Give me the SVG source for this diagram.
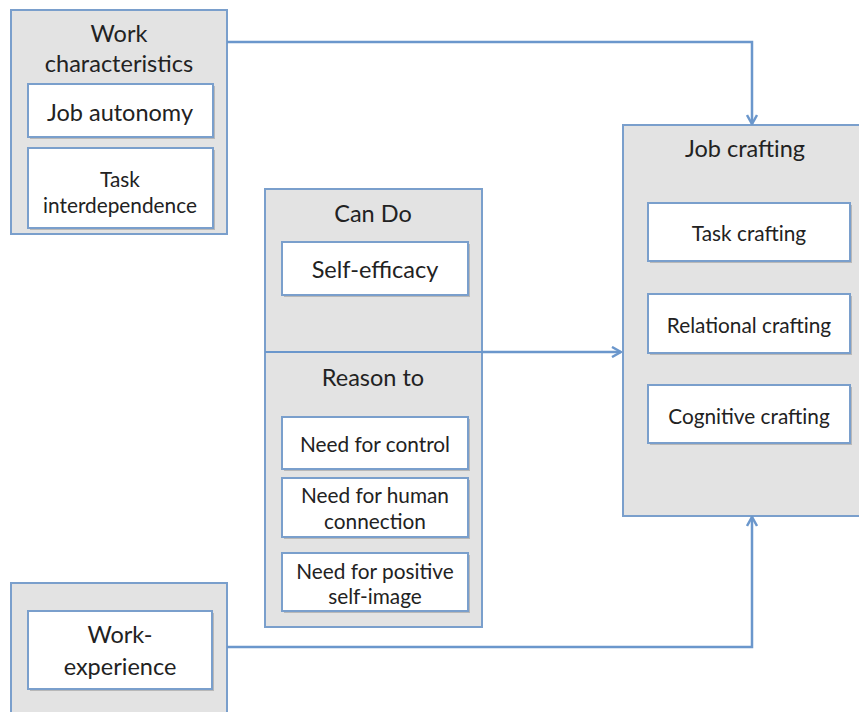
<svg xmlns="http://www.w3.org/2000/svg" width="859" height="712" viewBox="0 0 859 712">
<style>
.outer{fill:#e3e3e3;stroke:#7a9fcc;stroke-width:2}
.inner{fill:#ffffff;stroke:#7a9fcc;stroke-width:2}
.shadow{fill:#b8b8b8}
text{font-family:Lato,"Open Sans","Liberation Sans",sans-serif;fill:#222222;text-anchor:middle}
.big{font-size:23.5px}
.sm{font-size:20.8px}
.conn{fill:none;stroke:#6b97cc;stroke-width:2.5}
</style>
<defs>
<marker id="arr" viewBox="0 0 12 12" refX="11" refY="6" markerWidth="12" markerHeight="12" markerUnits="userSpaceOnUse" orient="auto">
<polyline points="2,1 11,6 2,11" fill="none" stroke="#6b97cc" stroke-width="2.5"/>
</marker>
</defs>
<rect width="859" height="712" fill="#ffffff"/>
<g id="work-characteristics">
<rect class="outer" x="11" y="10" width="216" height="224"/>
<text class="big" x="119" y="42">Work</text>
<text class="big" x="119" y="72">characteristics</text>
<g id="job-autonomy">
<rect class="shadow" x="30" y="86" width="185" height="53"/>
<rect class="inner" x="28" y="84" width="185" height="53"/>
<text class="big" x="120" y="121">Job autonomy</text>
</g>
<g id="task-interdependence">
<rect class="shadow" x="30" y="150" width="185" height="80"/>
<rect class="inner" x="28" y="148" width="185" height="80"/>
<text class="sm" x="120" y="187">Task</text>
<text class="sm" x="120" y="213">interdependence</text>
</g>
</g>
<g id="can-do-reason-to">
<rect class="outer" x="265" y="189" width="217" height="438"/>
<line x1="265" y1="352" x2="482" y2="352" stroke="#6b97cc" stroke-width="2"/>
<text class="big" x="373" y="222">Can Do</text>
<g id="self-efficacy">
<rect class="shadow" x="284" y="244" width="186" height="53"/>
<rect class="inner" x="282" y="242" width="186" height="53"/>
<text class="big" x="375" y="278">Self-efficacy</text>
</g>
<text class="big" x="373" y="386">Reason to</text>
<g id="need-control">
<rect class="shadow" x="284" y="419" width="186" height="52"/>
<rect class="inner" x="282" y="417" width="186" height="52"/>
<text class="sm" x="375" y="452">Need for control</text>
</g>
<g id="need-human">
<rect class="shadow" x="284" y="480" width="186" height="59"/>
<rect class="inner" x="282" y="478" width="186" height="59"/>
<text class="sm" x="375" y="503">Need for human</text>
<text class="sm" x="375" y="529">connection</text>
</g>
<g id="need-self-image">
<rect class="shadow" x="284" y="555" width="186" height="58"/>
<rect class="inner" x="282" y="553" width="186" height="58"/>
<text class="sm" x="375" y="579">Need for positive</text>
<text class="sm" x="375" y="604">self-image</text>
</g>
</g>
<g id="job-crafting">
<rect class="outer" x="623" y="125" width="250" height="391"/>
<text class="big" x="745" y="157">Job crafting</text>
<g id="task-crafting">
<rect class="shadow" x="650" y="205" width="202" height="58"/>
<rect class="inner" x="648" y="203" width="202" height="58"/>
<text class="sm" x="749" y="241">Task crafting</text>
</g>
<g id="relational-crafting">
<rect class="shadow" x="650" y="296" width="202" height="59"/>
<rect class="inner" x="648" y="294" width="202" height="59"/>
<text class="sm" x="749" y="333">Relational crafting</text>
</g>
<g id="cognitive-crafting">
<rect class="shadow" x="650" y="387" width="202" height="58"/>
<rect class="inner" x="648" y="385" width="202" height="58"/>
<text class="sm" x="749" y="424">Cognitive crafting</text>
</g>
</g>
<g id="work-experience-group">
<rect class="outer" x="11" y="583" width="216" height="140"/>
<g id="work-experience">
<rect class="shadow" x="30" y="613" width="184" height="78"/>
<rect class="inner" x="28" y="611" width="184" height="78"/>
<text class="big" x="120" y="643">Work-</text>
<text class="big" x="120" y="675">experience</text>
</g>
</g>
<g id="connectors">
<polyline class="conn" points="227,42 752,42 752,124" marker-end="url(#arr)"/>
<line class="conn" x1="482" y1="352" x2="621" y2="352" marker-end="url(#arr)"/>
<polyline class="conn" points="227,647 752,647 752,517" marker-end="url(#arr)"/>
</g>
</svg>
